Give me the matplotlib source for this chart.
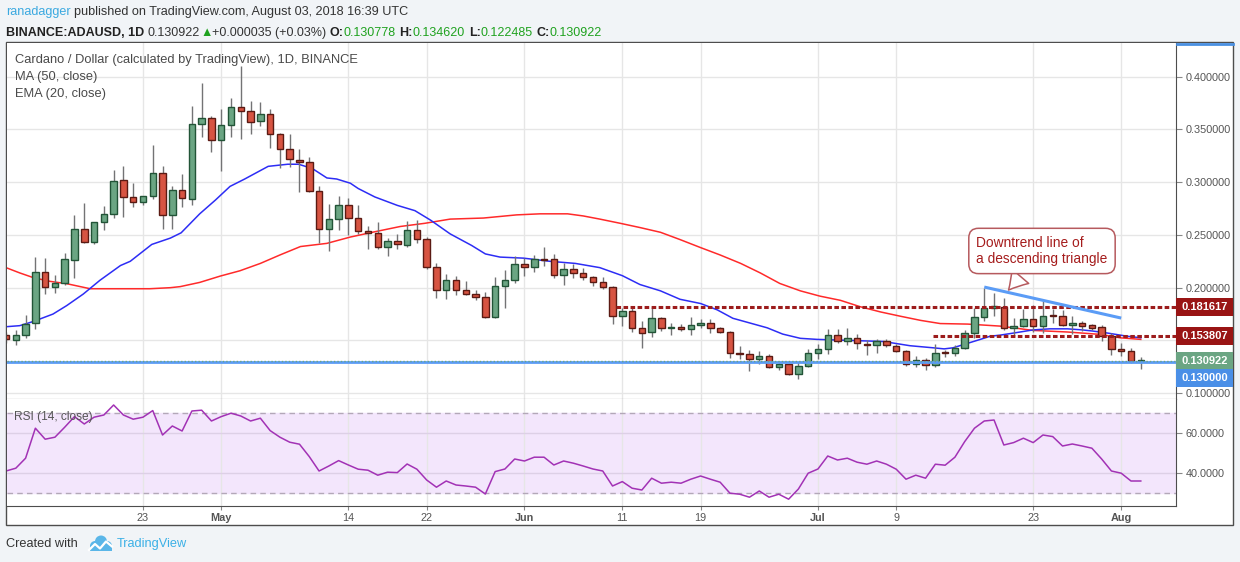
import numpy as np
import pandas as pd
import matplotlib
matplotlib.use('Agg')
import matplotlib.pyplot as plt
from matplotlib.patches import Rectangle, Circle
from matplotlib.transforms import Affine2D

plt.rcParams['font.family'] = ['Liberation Sans', 'DejaVu Sans']

W, H = 1240, 562

# ---- data (BINANCE:ADAUSD, 1D) ----
dates = pd.date_range('2018-04-09', '2018-08-03', freq='D')

opens = [0.155, 0.1506, 0.155, 0.167, 0.215, 0.201, 0.204, 0.226, 0.256, 0.243,
         0.262, 0.270, 0.302, 0.286, 0.281, 0.287, 0.309, 0.269, 0.293, 0.284,
         0.355, 0.361, 0.340, 0.354, 0.371, 0.367, 0.358, 0.365, 0.346, 0.331,
         0.321, 0.319, 0.292, 0.256, 0.265, 0.278, 0.266, 0.254, 0.252, 0.239,
         0.244, 0.240, 0.255, 0.246, 0.220, 0.198, 0.207, 0.198, 0.194, 0.191,
         0.172, 0.202, 0.207, 0.222, 0.220, 0.227, 0.227, 0.212, 0.218, 0.214,
         0.210, 0.205, 0.201, 0.173, 0.178, 0.162, 0.158, 0.171, 0.162, 0.163,
         0.161, 0.165, 0.167, 0.162, 0.158, 0.138, 0.137, 0.132, 0.135, 0.125,
         0.128, 0.118, 0.126, 0.138, 0.142, 0.155, 0.149, 0.152, 0.147, 0.146,
         0.149, 0.145, 0.140, 0.128, 0.131, 0.127, 0.139, 0.138, 0.143, 0.157,
         0.172, 0.181, 0.182, 0.162, 0.164, 0.170, 0.164, 0.174, 0.173, 0.165,
         0.167, 0.165, 0.163, 0.154, 0.142, 0.140, 0.130778]
highs = [0.158, 0.1595, 0.174, 0.229, 0.228, 0.212, 0.233, 0.269, 0.280, 0.262,
         0.277, 0.312, 0.315, 0.299, 0.287, 0.335, 0.315, 0.296, 0.308, 0.372,
         0.394, 0.363, 0.369, 0.380, 0.410, 0.377, 0.376, 0.369, 0.347, 0.346,
         0.331, 0.324, 0.296, 0.279, 0.287, 0.285, 0.278, 0.258, 0.262, 0.247,
         0.251, 0.263, 0.264, 0.248, 0.223, 0.213, 0.211, 0.206, 0.198, 0.196,
         0.210, 0.217, 0.230, 0.228, 0.231, 0.239, 0.232, 0.223, 0.222, 0.219,
         0.211, 0.210, 0.202, 0.181, 0.181, 0.168, 0.182, 0.172, 0.167, 0.166,
         0.172, 0.170, 0.170, 0.163, 0.159, 0.145, 0.141, 0.140, 0.137, 0.130,
         0.129, 0.130, 0.142, 0.147, 0.161, 0.161, 0.162, 0.156, 0.150, 0.151,
         0.151, 0.147, 0.141, 0.135, 0.133, 0.147, 0.141, 0.146, 0.160, 0.181,
         0.200, 0.195, 0.190, 0.171, 0.180, 0.184, 0.187, 0.180, 0.179, 0.173,
         0.168, 0.166, 0.165, 0.157, 0.148, 0.143, 0.134620]
lows = [0.148, 0.146, 0.152, 0.161, 0.194, 0.195, 0.203, 0.209, 0.242, 0.241,
        0.255, 0.266, 0.267, 0.276, 0.278, 0.284, 0.256, 0.256, 0.276, 0.278,
        0.343, 0.329, 0.311, 0.343, 0.341, 0.346, 0.353, 0.332, 0.313, 0.314,
        0.291, 0.291, 0.242, 0.235, 0.255, 0.250, 0.251, 0.237, 0.237, 0.230,
        0.237, 0.239, 0.242, 0.218, 0.190, 0.189, 0.193, 0.193, 0.188, 0.171,
        0.171, 0.181, 0.204, 0.211, 0.215, 0.221, 0.209, 0.203, 0.209, 0.207,
        0.202, 0.199, 0.166, 0.164, 0.158, 0.143, 0.153, 0.159, 0.155, 0.159,
        0.155, 0.162, 0.157, 0.157, 0.133, 0.132, 0.121, 0.128, 0.124, 0.122,
        0.117, 0.113, 0.125, 0.132, 0.137, 0.148, 0.146, 0.142, 0.136, 0.138,
        0.144, 0.139, 0.126, 0.125, 0.122, 0.125, 0.134, 0.135, 0.142, 0.152,
        0.168, 0.173, 0.160, 0.154, 0.163, 0.158, 0.157, 0.167, 0.164, 0.156,
        0.159, 0.160, 0.149, 0.136, 0.135, 0.129, 0.122485]
closes = [0.151, 0.155, 0.166, 0.215, 0.201, 0.204, 0.227, 0.256, 0.243, 0.262,
          0.270, 0.301, 0.286, 0.281, 0.287, 0.309, 0.269, 0.293, 0.285, 0.355,
          0.361, 0.340, 0.354, 0.371, 0.367, 0.357, 0.365, 0.346, 0.331, 0.322,
          0.319, 0.292, 0.256, 0.265, 0.278, 0.266, 0.254, 0.252, 0.239, 0.244,
          0.241, 0.255, 0.246, 0.220, 0.198, 0.207, 0.198, 0.194, 0.191, 0.172,
          0.202, 0.207, 0.222, 0.220, 0.227, 0.2265, 0.212, 0.218, 0.214, 0.210,
          0.205, 0.201, 0.173, 0.178, 0.162, 0.157, 0.171, 0.162, 0.1625, 0.161,
          0.165, 0.167, 0.162, 0.158, 0.138, 0.137, 0.132, 0.135, 0.125, 0.128,
          0.118, 0.126, 0.138, 0.142, 0.155, 0.149, 0.152, 0.148, 0.146, 0.149,
          0.146, 0.140, 0.128, 0.131, 0.127, 0.138, 0.138, 0.143, 0.157, 0.172,
          0.181, 0.183, 0.162, 0.164, 0.170, 0.164, 0.173, 0.173, 0.165, 0.167,
          0.164, 0.162, 0.154, 0.142, 0.140, 0.130887, 0.130922]

rsi_vals = [40.8, 42.2, 47.2, 62.2, 56.7, 57.7, 62.7, 68.0, 64.3, 67.7,
            68.8, 73.8, 68.8, 66.7, 67.7, 71.0, 58.8, 63.3, 60.8, 70.8,
            71.2, 65.8, 68.0, 69.7, 68.3, 65.8, 67.2, 61.0, 57.7, 55.2,
            54.2, 48.0, 40.8, 43.3, 46.0, 43.8, 41.7, 41.2, 38.7, 40.2,
            40.0, 44.3, 41.7, 36.3, 32.7, 35.8, 33.8, 33.3, 32.7, 29.3,
            40.5, 41.8, 46.8, 45.8, 47.7, 47.7, 43.8, 45.8, 44.7, 43.3,
            41.8, 40.8, 33.3, 35.5, 32.2, 31.3, 37.2, 34.7, 35.2, 34.7,
            36.7, 38.3, 36.7, 35.2, 29.7, 29.2, 27.7, 30.8, 27.7, 29.2,
            26.7, 31.8, 39.7, 41.8, 48.3, 46.3, 47.2, 45.2, 44.2, 45.8,
            44.2, 41.7, 36.7, 38.7, 37.2, 44.2, 43.7, 47.7, 55.5, 62.2,
            65.8, 66.3, 53.8, 55.0, 57.2, 55.0, 58.8, 58.0, 53.3, 54.3,
            53.3, 52.2, 46.8, 40.8, 39.7, 35.8, 35.8]

# EMA(20) and MA(50) (day index, price)
ema_days = [0, 1.4, 2.8, 4.8, 6.2, 7.9, 9.6, 11.7, 12.7, 14.9, 16.8, 17.9, 19.8,
            21.4, 22.9, 24.4, 26.0, 26.8, 28.8, 29.9, 31.3, 32.8, 33.8, 35.2,
            36.0, 37.7, 40.0, 41.8, 43.4, 45.4, 47.6, 49.0, 50.5, 52.9, 55.6,
            58.2, 60.7, 63.0, 64.8, 66.9, 68.9, 71.0, 72.7, 74.3, 77.8, 79.4,
            81.2, 82.9, 86.3, 89.7, 92.4, 94.8, 95.9, 96.8, 99.6, 100.6, 101.6,
            103.0, 105.0, 106.7, 108.5, 110.0, 111.0, 112.6, 114.6, 116.0]
ema_vals = [0.163, 0.164, 0.168, 0.175, 0.183, 0.194, 0.207, 0.221, 0.225, 0.241,
            0.247, 0.252, 0.270, 0.283, 0.296, 0.303, 0.311, 0.315, 0.317, 0.317,
            0.313, 0.304, 0.303, 0.299, 0.294, 0.286, 0.278, 0.273, 0.264, 0.251,
            0.240, 0.232, 0.229, 0.228, 0.225, 0.223, 0.219, 0.2114, 0.203, 0.197,
            0.189, 0.185, 0.179, 0.171, 0.162, 0.156, 0.152, 0.151, 0.150, 0.149,
            0.145, 0.143, 0.142, 0.143, 0.151, 0.154, 0.155, 0.157, 0.160, 0.161,
            0.161, 0.160, 0.159, 0.157, 0.154, 0.1525]
ma_days = [0, 1.4, 2.8, 4.5, 6.2, 8.6, 11.7, 14.7, 16.8, 17.8, 19.8, 21.9, 23.9,
           26.0, 28.0, 30.1, 32.8, 35.2, 37.7, 40.3, 42.8, 45.4, 48.8, 52.2, 54.6,
           57.4, 59.0, 60.7, 62.8, 64.8, 66.9, 68.9, 71.0, 73.0, 75.1, 77.1, 79.1,
           81.2, 83.2, 85.3, 87.3, 89.4, 91.4, 93.5, 95.5, 98.3, 101.6, 105.0,
           108.5, 111.9, 113.9, 116.0]
ma_vals = [0.219, 0.214, 0.2095, 0.206, 0.2038, 0.199, 0.199, 0.199, 0.200, 0.201,
           0.205, 0.211, 0.216, 0.223, 0.231, 0.239, 0.242, 0.248, 0.253, 0.258,
           0.261, 0.265, 0.266, 0.269, 0.270, 0.270, 0.268, 0.265, 0.261, 0.257,
           0.2525, 0.2456, 0.238, 0.231, 0.223, 0.214, 0.204, 0.197, 0.192, 0.188,
           0.182, 0.177, 0.173, 0.169, 0.166, 0.1655, 0.1636, 0.1595, 0.158,
           0.1557, 0.1525, 0.151]

level_upper = 0.181617
level_lower = 0.153807
level_support = 0.130000
upper_start = '2018-06-10'
lower_start = '2018-07-12'
trend_dates = ['2018-07-18', '2018-08-01']
trend_vals = [0.2006, 0.1712]

price_ticks = [0.10, 0.15, 0.20, 0.25, 0.30, 0.35, 0.40]
price_labels = ['0.100000', '', '0.200000', '0.250000', '0.300000', '0.350000', '0.400000']
rsi_ticks = [40, 60]
rsi_labels = ['40.0000', '60.0000']
tick_dates = ['2018-04-23', '2018-05-01', '2018-05-14', '2018-05-22', '2018-06-01',
              '2018-06-11', '2018-06-19', '2018-07-01', '2018-07-09', '2018-07-23',
              '2018-08-01']

UP, DOWN = '#6ba583', '#d75442'
UP_EDGE, DOWN_EDGE = '#225437', '#5b1a13'
TXT = '#4a4a4a'

x = np.arange(len(dates))
o, h, l, c = map(np.array, (opens, highs, lows, closes))


def day(s):
    return int((pd.Timestamp(s) - dates[0]).days)


def rect(left, top, right, bottom):
    return [left / W, 1 - bottom / H, (right - left) / W, (bottom - top) / H]


fig = plt.figure(figsize=(W / 100, H / 100), dpi=100, facecolor='#f1f4f7')
pix = Affine2D().scale(1 / W, -1 / H).translate(0, 1) + fig.transFigure

# outer frame
fig.patches.append(Rectangle((6, 42), 1227, 483, transform=pix, fc='white',
                             ec='#4d4d4d', lw=1, zorder=-5))
fig.add_artist(plt.Line2D([1177, 1233], [44, 44], transform=pix, color='#4a90e2', lw=2))

ax = fig.add_axes(rect(7, 43, 1176, 399))
rs = fig.add_axes(rect(7, 399, 1176, 506), sharex=ax)

ptop, pbot = 0.4319, 0.0945
ax.set_ylim(pbot, ptop)
ax.set_xlim(0.1, 119.6)
per_px = (ptop - pbot) / 356.0

for a in (ax, rs):
    for s in ('left', 'top'):
        a.spines[s].set_visible(False)
    for s in ('right', 'bottom'):
        a.spines[s].set_color('#4d4d4d')
    a.yaxis.tick_right()
    a.tick_params(axis='y', length=4, color='#888888', labelsize=7.8,
                  labelcolor='#555555', pad=3)
    a.set_xticks([day(t) for t in tick_dates])
    a.grid(color='#e6e6e6', lw=1, zorder=0)
    a.set_axisbelow(True)

ax.tick_params(axis='x', length=0, labelbottom=False)
ax.set_yticks(price_ticks)
ax.set_yticklabels(price_labels)

# moving averages
ax.plot(ma_days, ma_vals, color='#ff2a2a', lw=1.1, zorder=2)
ax.plot(ema_days, ema_vals, color='#2d2df5', lw=1.1, zorder=2)

# candles
up = c >= o
ax.vlines(x, l, h, color='#737375', lw=1, zorder=3)
body_lo = np.minimum(o, c)
body_h = np.maximum(np.abs(c - o), 0.0009)
ax.bar(x, body_h, bottom=body_lo, width=0.66, color=np.where(up, UP, DOWN),
       edgecolor=np.where(up, UP_EDGE, DOWN_EDGE), lw=1, zorder=4)

# drawings
ax.axhline(level_support, color='#5b9cf6', lw=2, zorder=5)
ax.axhline(c[-1], color=UP, lw=1, ls=(0, (1, 1.5)), zorder=6)
ax.hlines(level_upper, day(upper_start) + 0.4, 119.6, color='#9c1c1c', lw=2.2,
          linestyles=(0, (1.5, 0.8)), zorder=5)
ax.hlines(level_lower, day(lower_start) + 0.8, 119.6, color='#9c1c1c', lw=2.2,
          linestyles=(0, (1.5, 0.8)), zorder=5)
ax.plot([day(d) for d in trend_dates], trend_vals, color='#5b9cf6', lw=2.2,
        solid_capstyle='butt', zorder=5)

tip = day(trend_dates[0]) + 2.3
ax.annotate('Downtrend line of\na descending triangle',
            xy=(tip, trend_vals[0] + (trend_vals[1] - trend_vals[0]) * 2.3 / 14),
            xytext=(105.9, 0.2348), ha='center', va='center', multialignment='left',
            color='#a51c1c', fontsize=9.9, zorder=8,
            bbox=dict(boxstyle='round,pad=0.55,rounding_size=0.7', fc='white',
                      ec='#b65a5e', lw=1.1),
            arrowprops=dict(arrowstyle='wedge,tail_width=1.6,shrink_factor=0.45',
                            fc='white', ec='#b65a5e', lw=1.1))

# price labels on the axis
yax = ax.get_yaxis_transform()
box_w = 57 / 1169
box_h = 18 * per_px
for val, col, shift in [(level_upper, '#991414', 0), (level_lower, '#991414', 0),
                        (c[-1], UP, 0), (level_support, '#4a8fe7', -16)]:
    cy = val + shift * per_px
    ax.add_patch(Rectangle((1.0, cy - box_h / 2), box_w, box_h, transform=yax,
                           fc=col, ec='none', clip_on=False, zorder=9))
    ax.text(1.0 + box_w / 2, cy, f'{val:.6f}', transform=yax, ha='center',
            va='center', color='white', fontsize=8, fontweight='bold',
            clip_on=False, zorder=10)

ax.text(8 / 1169, 1 - 17 / 356, 'Cardano / Dollar (calculated by TradingView), 1D, BINANCE',
        transform=ax.transAxes, color=TXT, fontsize=9.3, va='center')
ax.text(8 / 1169, 1 - 34 / 356, 'MA (50, close)', transform=ax.transAxes,
        color=TXT, fontsize=9.3, va='center')
ax.text(8 / 1169, 1 - 51 / 356, 'EMA (20, close)', transform=ax.transAxes,
        color=TXT, fontsize=9.3, va='center')

# RSI panel
rs.set_ylim(23.3, 76.8)
rs.axhspan(30, 70, color='#f3e6fc', zorder=0.5)
rs.axhline(70, color='#b3a8b8', lw=1, ls=(0, (4, 3)), zorder=1)
rs.axhline(30, color='#b3a8b8', lw=1, ls=(0, (4, 3)), zorder=1)
rs.set_yticks(rsi_ticks)
rs.set_yticklabels(rsi_labels)
rs.grid(axis='y', color='#ddd0e6', lw=1)
rs.plot(x, rsi_vals, color='#a232b5', lw=1.1, zorder=3)
rs.text(7 / 1169, 1 - 18 / 107, 'RSI (14, close)', transform=rs.transAxes,
        color='#555555', fontsize=8.6, va='center')

xlabels = []
for t in tick_dates:
    ts = pd.Timestamp(t)
    xlabels.append(ts.strftime('%b') if ts.day == 1 else str(ts.day))
rs.set_xticklabels(xlabels)
rs.tick_params(axis='x', length=3, color='#888888', pad=2, labelsize=7.8,
               labelcolor='#555555')
for lab in rs.get_xticklabels():
    if not lab.get_text().isdigit():
        lab.set_fontweight('bold')

# header and footer
renderer = fig.canvas.get_renderer()


def runs(x0, y0, parts, size):
    xx = x0
    space = 0.278 * size * 100 / 72
    for txt, col, wt in parts:
        t = fig.text(xx / W, 1 - y0 / H, txt.strip(), color=col, fontsize=size,
                     fontweight=wt, va='center', ha='left')
        xx += t.get_window_extent(renderer=renderer).width
        if txt.endswith(' '):
            xx += space


runs(6, 12, [('ranadagger ', '#3ba9e0', 'normal'),
             ('published on TradingView.com, August 03, 2018 16:39 UTC', '#333333', 'normal')], 9.05)
G = '#1fa21f'
runs(6, 33, [('BINANCE:ADAUSD, 1D ', '#222222', 'bold'), ('0.130922', '#333333', 'normal'),
             ('▲', G, 'normal'), ('+0.000035 (+0.03%) ', '#333333', 'normal'),
             ('O:', '#222222', 'bold'), ('0.130778 ', G, 'normal'),
             ('H:', '#222222', 'bold'), ('0.134620 ', G, 'normal'),
             ('L:', '#222222', 'bold'), ('0.122485 ', G, 'normal'),
             ('C:', '#222222', 'bold'), ('0.130922', G, 'normal')], 9.0)

fig.text(6 / W, 1 - 544 / H, 'Created with', color='#333333', fontsize=9.2, va='center')
logo = '#5ab6e8'
for cx, cy, r in [(95, 546, 5), (101, 541.5, 6), (107, 546, 5)]:
    fig.patches.append(Circle((cx, cy), r, transform=pix, fc=logo, ec='none'))
fig.patches.append(Rectangle((90, 545), 22, 6, transform=pix, fc=logo, ec='none'))
fig.add_artist(plt.Line2D([89, 95, 100, 106, 112], [550, 544, 548.5, 541.5, 546.5],
                          transform=pix, color='white', lw=1.6))
fig.text(117 / W, 1 - 544 / H, 'TradingView', color='#3bb0e6', fontsize=9.2, va='center')

fig.savefig('out.png', dpi=100, facecolor=fig.get_facecolor())
